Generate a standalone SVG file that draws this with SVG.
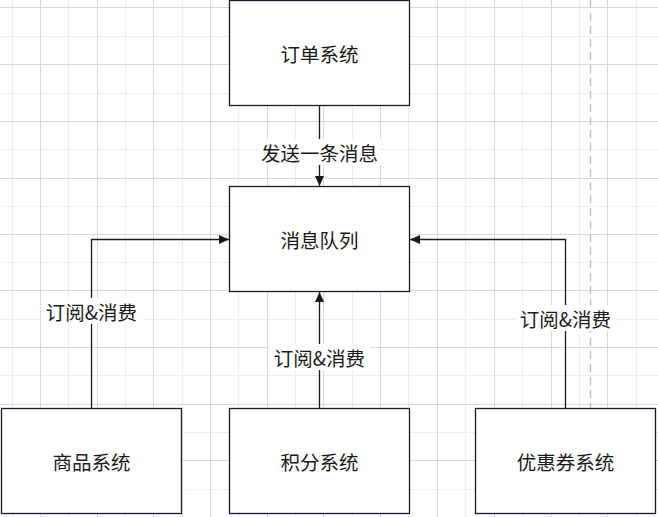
<svg xmlns="http://www.w3.org/2000/svg" width="658" height="517" viewBox="0 0 658 517">
<defs>
<style>
.mn{stroke:#ededed;stroke-width:1}
.mj{stroke:#d9d9d9;stroke-width:1}
.box{fill:#ffffff;stroke:#16163a;stroke-width:1.3}
.t{font-family:"Noto Sans CJK SC","Liberation Sans",sans-serif;font-size:19.5px;fill:#1a1a1a;text-anchor:middle;dominant-baseline:central}
.e{fill:none;stroke:#1a1a1a;stroke-width:1.3}
.lb{fill:#ffffff}
</style>
<marker id="ah" viewBox="0 0 10 10" refX="10" refY="5" markerWidth="10" markerHeight="10" markerUnits="userSpaceOnUse" orient="auto">
<path d="M0,0.5 L10,5 L0,9.5 Z" fill="#1a1a1a"/>
</marker>
</defs>
<rect width="658" height="517" fill="#ffffff"/>
<g id="grid">
<g class="mn">
<line x1="12.5" y1="0" x2="12.5" y2="517"/><line x1="68.5" y1="0" x2="68.5" y2="517"/><line x1="125.5" y1="0" x2="125.5" y2="517"/><line x1="182.5" y1="0" x2="182.5" y2="517"/><line x1="238.5" y1="0" x2="238.5" y2="517"/><line x1="295.5" y1="0" x2="295.5" y2="517"/><line x1="352.5" y1="0" x2="352.5" y2="517"/><line x1="408.5" y1="0" x2="408.5" y2="517"/><line x1="465.5" y1="0" x2="465.5" y2="517"/><line x1="522.5" y1="0" x2="522.5" y2="517"/><line x1="579.5" y1="0" x2="579.5" y2="517"/><line x1="636.5" y1="0" x2="636.5" y2="517"/>
<line x1="0" y1="36.5" x2="658" y2="36.5"/><line x1="0" y1="93.5" x2="658" y2="93.5"/><line x1="0" y1="149.5" x2="658" y2="149.5"/><line x1="0" y1="206.5" x2="658" y2="206.5"/><line x1="0" y1="262.5" x2="658" y2="262.5"/><line x1="0" y1="319.5" x2="658" y2="319.5"/><line x1="0" y1="375.5" x2="658" y2="375.5"/><line x1="0" y1="432.5" x2="658" y2="432.5"/><line x1="0" y1="489.5" x2="658" y2="489.5"/>
</g>
<g class="mj">
<line x1="40.5" y1="0" x2="40.5" y2="517"/><line x1="97.5" y1="0" x2="97.5" y2="517"/><line x1="153.5" y1="0" x2="153.5" y2="517"/><line x1="210.5" y1="0" x2="210.5" y2="517"/><line x1="267.5" y1="0" x2="267.5" y2="517"/><line x1="323.5" y1="0" x2="323.5" y2="517"/><line x1="380.5" y1="0" x2="380.5" y2="517"/><line x1="437.5" y1="0" x2="437.5" y2="517"/><line x1="494.5" y1="0" x2="494.5" y2="517"/><line x1="551.5" y1="0" x2="551.5" y2="517"/><line x1="607.5" y1="0" x2="607.5" y2="517"/>
<line x1="0" y1="7.5" x2="658" y2="7.5"/><line x1="0" y1="64.5" x2="658" y2="64.5"/><line x1="0" y1="121.5" x2="658" y2="121.5"/><line x1="0" y1="178.5" x2="658" y2="178.5"/><line x1="0" y1="234.5" x2="658" y2="234.5"/><line x1="0" y1="290.5" x2="658" y2="290.5"/><line x1="0" y1="347.5" x2="658" y2="347.5"/><line x1="0" y1="404.5" x2="658" y2="404.5"/><line x1="0" y1="460.5" x2="658" y2="460.5"/>
</g>
<line x1="590.5" y1="0" x2="590.5" y2="408" stroke="#bdbdbd" stroke-width="1.3" stroke-dasharray="8,5"/>
</g>
<g id="connectors">
<path class="e" d="M319.5,105.5 L319.5,186" marker-end="url(#ah)"/>
<path class="e" d="M91.5,408.5 L91.5,239.5 L229,239.5" marker-end="url(#ah)"/>
<path class="e" d="M319.5,408.5 L319.5,292" marker-end="url(#ah)"/>
<path class="e" d="M565.5,408.5 L565.5,239.5 L410,239.5" marker-end="url(#ah)"/>
<rect class="lb" x="258" y="139" width="123" height="26"/>
<text class="t" x="319.5" y="152">发送一条消息</text>
<rect class="lb" x="41" y="298" width="101" height="26"/>
<text class="t" x="91.5" y="311">订阅&amp;消费</text>
<rect class="lb" x="269" y="344" width="101" height="26"/>
<text class="t" x="319.5" y="357">订阅&amp;消费</text>
<rect class="lb" x="515" y="305" width="101" height="26"/>
<text class="t" x="565.5" y="318">订阅&amp;消费</text>
</g>
<g id="order"><rect class="box" x="229.5" y="0.5" width="180" height="105"/><text class="t" x="319.5" y="53">订单系统</text></g>
<g id="mq"><rect class="box" x="229.5" y="186.5" width="180" height="105"/><text class="t" x="319.5" y="239">消息队列</text></g>
<g id="goods"><rect class="box" x="1.5" y="408.5" width="180" height="105"/><text class="t" x="91.5" y="461">商品系统</text></g>
<g id="points"><rect class="box" x="229.5" y="408.5" width="180" height="105"/><text class="t" x="319.5" y="461">积分系统</text></g>
<g id="coupon"><rect class="box" x="475.5" y="408.5" width="180" height="105"/><text class="t" x="565.5" y="461">优惠券系统</text></g>
</svg>
